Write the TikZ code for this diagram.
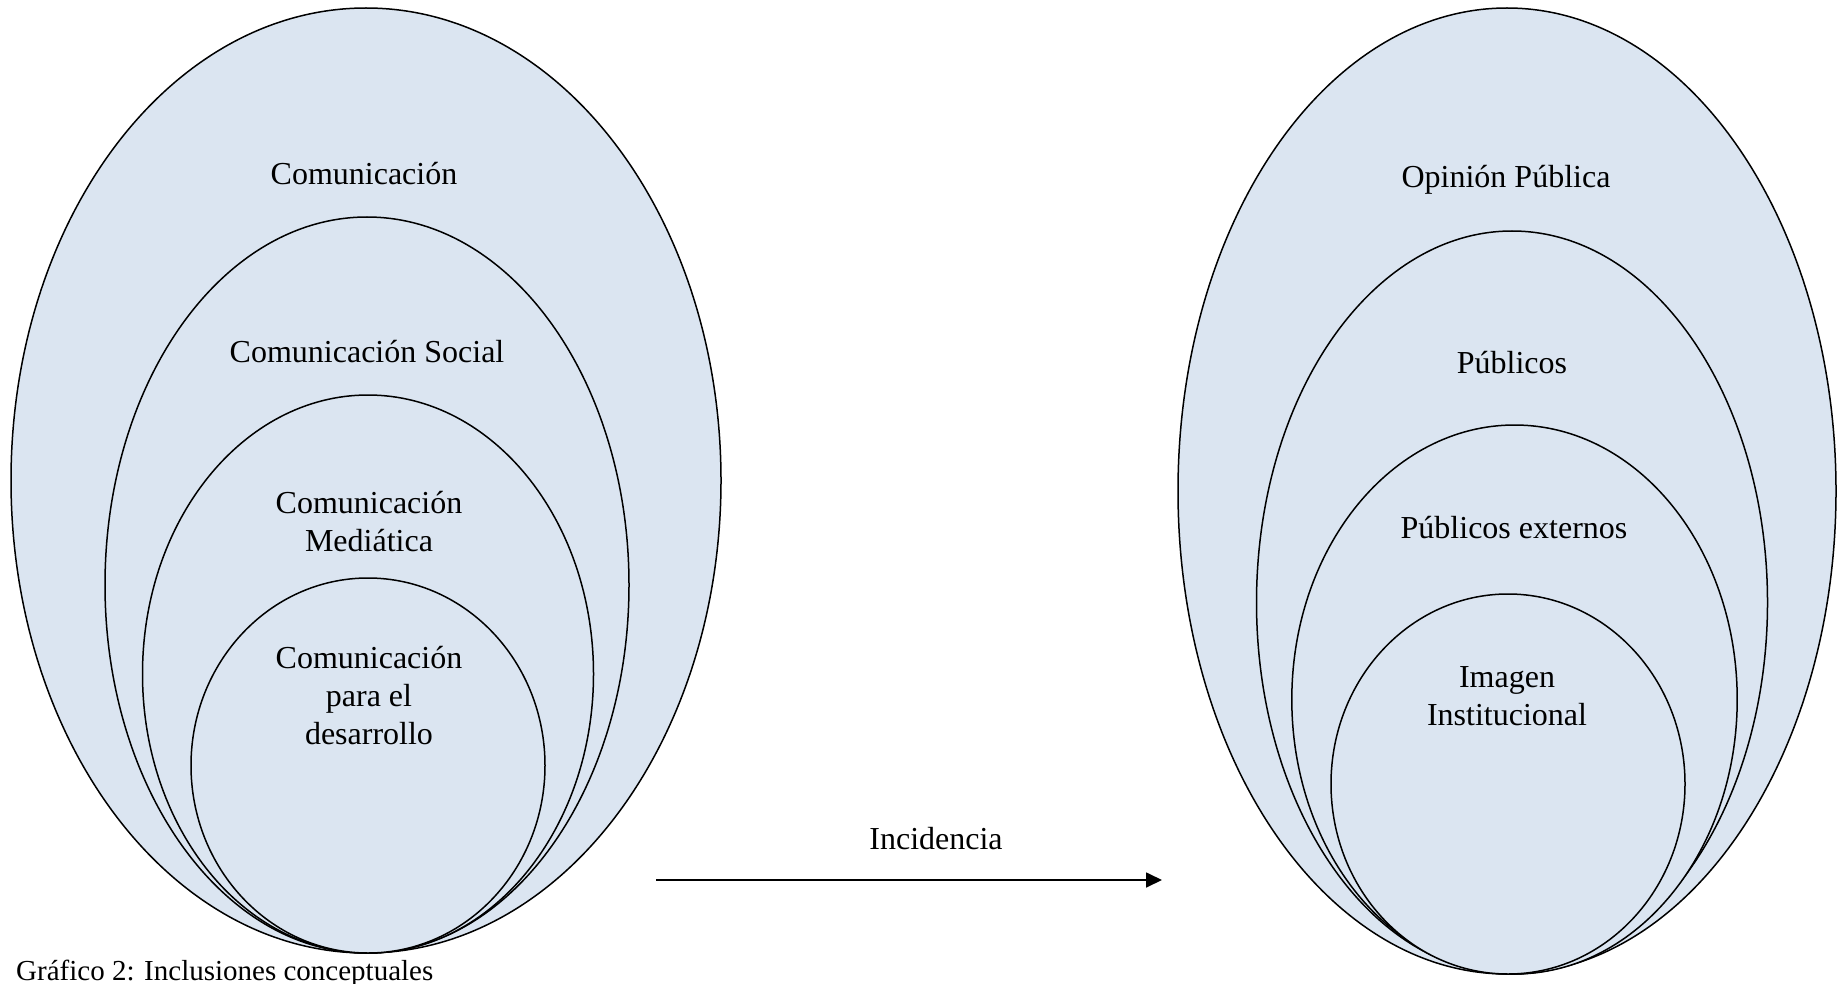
\documentclass[tikz,border=0pt]{standalone}
\usepackage{fontspec}
\setmainfont{Liberation Serif}
\usepackage{xcolor}
\usetikzlibrary{arrows.meta}
\definecolor{setfill}{HTML}{DBE5F1}

\begin{document}
\begin{tikzpicture}[x=1pt,y=-1pt,
  set/.style={draw=black,line width=1.5pt,fill=setfill},
  setlabel/.style={anchor=base,align=center,inner sep=0pt,
    font=\fontsize{32}{38}\selectfont}]
  \useasboundingbox (0,0) rectangle (1838,984);
  % left family
  \draw[set] (366,480.5) ellipse [x radius=355,y radius=472.5];
  \draw[set] (367,585) ellipse [x radius=262,y radius=368];
  \draw[set] (368,674) ellipse [x radius=225.5,y radius=279];
  \draw[set] (368,765.5) ellipse [x radius=177,y radius=187.5];
  \node[setlabel] (com) at (364,185) {Comunicación};
  \node[setlabel] (comsoc) at (367,362) {Comunicación Social};
  \node[setlabel] (commed) at (369,551) {Comunicación\\Mediática};
  \node[setlabel] (comdes) at (369,744) {Comunicación\\para el\\desarrollo};
  % right family
  \draw[set] (1507,491) ellipse [x radius=329,y radius=483];
  \draw[set] (1512,602.5) ellipse [x radius=255.5,y radius=371.5];
  \draw[set] (1514.5,699.5) ellipse [x radius=222.7,y radius=274.5];
  \draw[set] (1508,784) ellipse [x radius=177,y radius=190];
  \node[setlabel] (opin) at (1506,188) {Opinión Pública};
  \node[setlabel] (pub) at (1512,373) {Públicos};
  \node[setlabel] (pubext) at (1514,538) {Públicos externos};
  \node[setlabel] (imag) at (1507,725) {Imagen\\Institucional};
  % incidence arrow
  \coordinate (from) at (656,880);
  \coordinate (to) at (1162,880);
  \draw[line width=1.7pt,-{Triangle[length=16pt,width=15pt]}] (from) -- (to);
  \node[setlabel] (inc) at (936,849) {Incidencia};
  \node[anchor=base west,inner sep=0pt,font=\fontsize{29}{34}\selectfont]
    (caption) at (16,980) {Gráfico 2: Inclusiones conceptuales};
\end{tikzpicture}
\end{document}
